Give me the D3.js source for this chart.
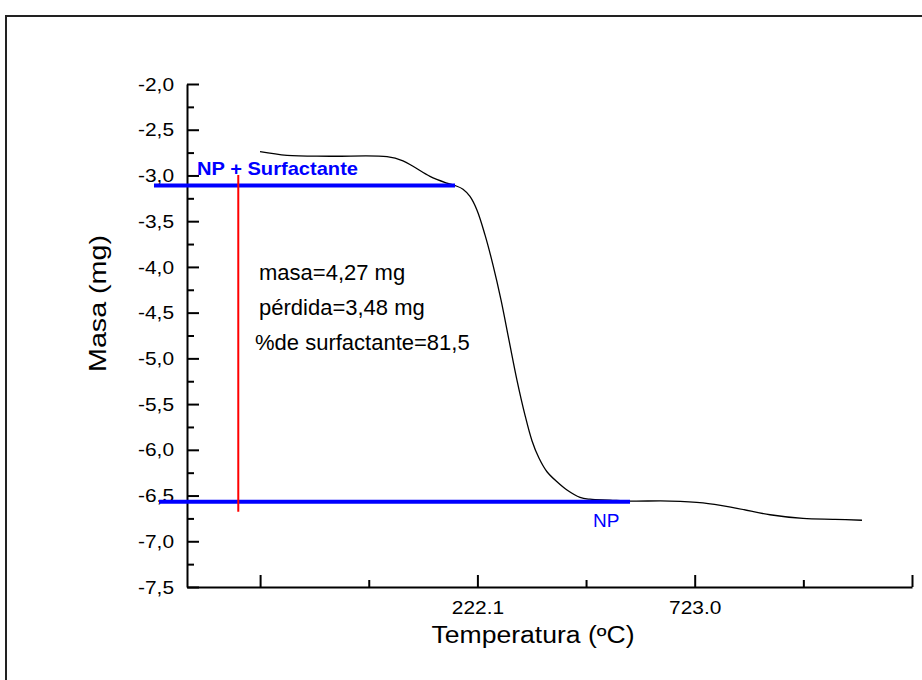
<!DOCTYPE html>
<html>
<head>
<meta charset="utf-8">
<script src="https://cdn.jsdelivr.net/npm/d3@7"></script>
<style>
body { margin: 0; background: #fff; }
text { font-family: Arial, "Liberation Sans", sans-serif; }
</style>
</head>
<body>
<svg width="922" height="680"></svg>
<script>

// TGA curve (temperature ºC, mass mg)
var temps  = [-279.0, -216.8, -117.7, 13.7, 50.6, 73.7, 112.8, 149.7, 170.5, 188.9, 205.0, 221.2,
  239.6, 258.1, 276.5, 294.9, 313.4, 331.8, 347.9, 364.0, 382.5, 405.6, 428.6, 458.6, 481.6,
  527.8, 573.9, 666.1, 742.1, 820.5, 896.6, 972.6, 1046.4, 1108.6];
var masses = [-2.74, -2.78, -2.79, -2.795, -2.84, -2.90, -3.01, -3.08, -3.11, -3.15, -3.23, -3.38,
  -3.65, -3.98, -4.36, -4.80, -5.24, -5.62, -5.90, -6.09, -6.24, -6.35, -6.44, -6.52, -6.54,
  -6.55, -6.56, -6.56, -6.58, -6.64, -6.71, -6.75, -6.76, -6.77];

// reference levels
var levelTemps  = [[-523.4, 170.5], [-511.8, 573.9]];
var levelMasses = [-3.11, -6.567];
var levelNames  = ["NP + Surfactante", "NP"];
var markerTemp  = -329.1;
var markerMass  = [-2.995, -6.677];

var notes = ["masa=4,27 mg", "pérdida=3,48 mg", "%de surfactante=81,5"];

var xMajor = [-278.8, 222.1, 723.0, 1223.9];
var xLabels = ["", "222.1", "723.0", ""];
var xMinor = [-28.35, 472.55, 973.45];
var yMajor = [-2.0, -2.5, -3.0, -3.5, -4.0, -4.5, -5.0, -5.5, -6.0, -6.5, -7.0, -7.5];
var yMinor = [-2.25, -2.75, -3.25, -3.75, -4.25, -4.75, -5.25, -5.75, -6.25, -6.75, -7.25];

var svg = d3.select("svg");

svg.append("rect")
    .attr("x", 6).attr("y", 16)
    .attr("width", 1000).attr("height", 1000)
    .attr("fill", "none")
    .attr("stroke", "#222")
    .attr("stroke-width", 2);

var x = d3.scaleLinear().domain([-447.3, 1223.9]).range([187, 912]);
var y = d3.scaleLinear().domain([-7.5, -2.0]).range([587, 84]);

// y axis
svg.append("g")
    .attr("transform", "translate(187,0)")
    .call(d3.axisLeft(y).tickValues(yMajor).tickSizeInner(-12).tickSizeOuter(0).tickPadding(13)
      .tickFormat(function(d){ return d.toFixed(1).replace(".", ","); }));
svg.append("g")
    .attr("transform", "translate(187,0)")
    .call(d3.axisLeft(y).tickValues(yMinor).tickSizeInner(-7).tickSizeOuter(0).tickFormat(""))
    .select(".domain").remove();

// x axis
svg.append("g")
    .attr("transform", "translate(0,587)")
    .call(d3.axisBottom(x).tickValues(xMajor).tickSizeInner(-12).tickSizeOuter(0).tickPadding(14)
      .tickFormat(function(d, i){ return xLabels[i]; }));
svg.append("g")
    .attr("transform", "translate(0,587)")
    .call(d3.axisBottom(x).tickValues(xMinor).tickSizeInner(-7).tickSizeOuter(0).tickFormat(""))
    .select(".domain").remove();

svg.selectAll(".domain").attr("stroke", "#000").attr("stroke-width", 2);
svg.selectAll(".tick line").attr("stroke", "#000").attr("stroke-width", 2);
svg.selectAll(".tick text")
    .attr("fill", "#000")
    .style("font-size", "19px")
    .style("font-family", "Arial, 'Liberation Sans', sans-serif")
    .each(function(){
      var w = this.getComputedTextLength();
      if (w > 0) d3.select(this).attr("textLength", w * 1.1).attr("lengthAdjust", "spacingAndGlyphs");
    });

// axis titles
svg.append("text")
    .attr("x", 533).attr("y", 643)
    .attr("text-anchor", "middle")
    .style("font-size", "23px")
    .attr("textLength", 203).attr("lengthAdjust", "spacingAndGlyphs")
    .text("Temperatura (ºC)");

svg.append("text")
    .attr("transform", "translate(106,303.5) rotate(-90)")
    .attr("text-anchor", "middle")
    .style("font-size", "24px")
    .attr("textLength", 137).attr("lengthAdjust", "spacingAndGlyphs")
    .text("Masa (mg)");

// curve
var pts = temps.map(function(t, i){ return [t, masses[i]]; });
svg.append("path")
    .datum(pts)
    .attr("fill", "none")
    .attr("stroke", "#000")
    .attr("stroke-width", 1.3)
    .attr("d", d3.line()
      .x(function(d){ return x(d[0]); })
      .y(function(d){ return y(d[1]); })
      .curve(d3.curveCatmullRom.alpha(0.5)));

// blue levels
levelMasses.forEach(function(m, i){
  svg.append("line")
      .attr("x1", x(levelTemps[i][0])).attr("x2", x(levelTemps[i][1]))
      .attr("y1", y(m)).attr("y2", y(m))
      .attr("stroke", "#0000ff")
      .attr("stroke-width", 4);
});

// red marker
svg.append("line")
    .attr("x1", x(markerTemp)).attr("x2", x(markerTemp))
    .attr("y1", y(markerMass[0])).attr("y2", y(markerMass[1]))
    .attr("stroke", "#ff0000")
    .attr("stroke-width", 2);

svg.append("text")
    .attr("x", 197).attr("y", 175)
    .attr("fill", "#0000ff")
    .style("font-size", "19px")
    .style("font-weight", "bold")
    .attr("textLength", 161).attr("lengthAdjust", "spacingAndGlyphs")
    .text(levelNames[0]);

svg.append("text")
    .attr("x", 593).attr("y", 527)
    .attr("fill", "#0000ff")
    .style("font-size", "19px")
    .text(levelNames[1]);

svg.selectAll(".note")
    .data(notes)
  .enter().append("text")
    .attr("class", "note")
    .attr("x", function(d, i){ return i == 2 ? 255 : 259; })
    .attr("y", function(d, i){ return 280 + i * 35; })
    .style("font-size", "22px")
    .attr("fill", "#000")
    .text(function(d){ return d; });

</script>
</body>
</html>
